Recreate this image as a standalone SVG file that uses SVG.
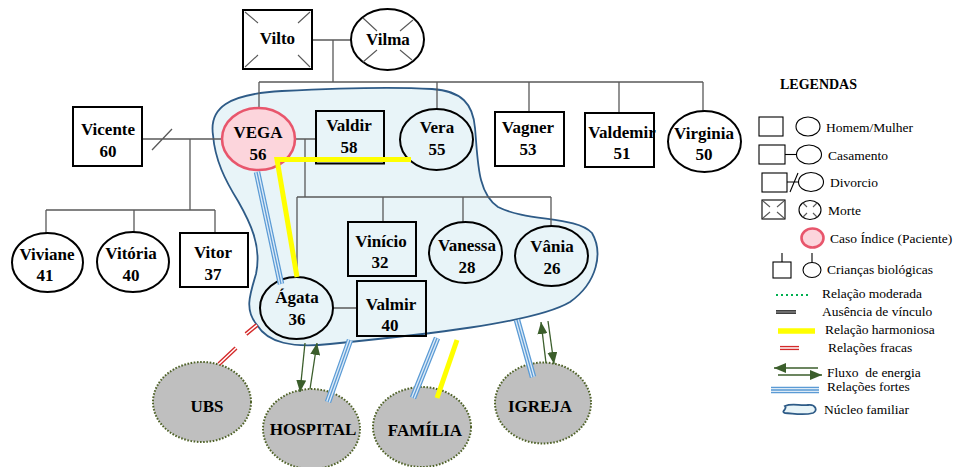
<svg xmlns="http://www.w3.org/2000/svg" width="956" height="467" viewBox="0 0 956 467">
  <style>
    .ln { stroke:#595959; stroke-width:1.3; fill:none }
    .nd { fill:#fff; stroke:#000; stroke-width:2 }
    .ni { fill:none; stroke:#000; stroke-width:2 }
    .idx { fill:#fcd5dc; stroke:#e8566c; stroke-width:2.6 }
    .x { stroke:#595959; stroke-width:1.1 }
    .t { font-family:"Liberation Serif","Times New Roman","DejaVu Serif",serif; font-weight:bold; font-size:17px; text-anchor:middle; fill:#000 }
    .sat { fill:#bfbfbf; stroke:#4f6228; stroke-width:2; stroke-dasharray:1.6 1.6 }
    .sa { stroke:#5b9bd5; stroke-width:6.5; fill:none }
    .sb { stroke:#dceaf7; stroke-width:4; fill:none }
    .sc { stroke:#5b9bd5; stroke-width:1.3; fill:none }
    .yl { stroke:#ffff00; stroke-width:5; fill:none }
    .ra { stroke:#d42a2a; stroke-width:4.2; fill:none }
    .rb { stroke:#fff; stroke-width:1.5; fill:none }
    .en { stroke:#3b5e2b; stroke-width:1.3; fill:none; marker-end:url(#ah) }
    .lgh { font-family:"Liberation Serif","Times New Roman","DejaVu Serif",serif; font-weight:bold; font-size:14px; fill:#000 }
    .lg { font-family:"Liberation Serif","Times New Roman","DejaVu Serif",serif; font-size:13.5px; fill:#000; white-space:pre }
    .ls { fill:#fff; stroke:#000; stroke-width:1.1 }
  </style>
  <defs>
    <marker id="ah" viewBox="0 0 12 10" refX="12" refY="5" markerWidth="12" markerHeight="10" markerUnits="userSpaceOnUse" orient="auto">
      <path d="M0,0 L12,5 L0,10 Z" fill="#3b5e2b"/>
    </marker>
  </defs>

  <!-- family nucleus outline -->
  <g id="nucleo">
    <path d="M213,135 C209,108 228,94 282,91 C340,88 400,87 432,89 C462,91 473,104 475,128 C478,160 477,193 498,207 C528,222 576,216 592,233 C603,252 598,282 570,302 C535,323 420,335 330,344 C292,348 268,343 257,325 C244,310 250,294 256,274 C262,246 250,222 238,201 C225,180 215,160 213,135 Z" fill="#e8f4f8" stroke="#2e5b87" stroke-width="1.8"/>
  </g>

  <!-- lineage lines -->
  <g id="lineage">
    <path class="ln" d="M312,40 H351 M333,40 V82 M259,82 H703 M259,82 V108 M437,82 V109 M529,82 V112 M619,82 V113 M703,82 V111"/>
    <path class="ln" d="M142,139 H222 M152,150 L172,129 M190,139 V210 M46,210 H215 M46,210 V233 M134,210 V232 M215,210 V233"/>
    <path class="ln" d="M295,139 H316 M305,139 V197 M297,197 H551 M297,197 V277 M383,197 V222 M463,197 V222 M551,197 V226 M333,308 H357"/>
  </g>

  <!-- people -->
  <g id="vilto">
    <rect class="nd" x="243" y="10" width="69" height="59"/>
    <path class="x" d="M245,12 L258,23 M310,12 L298,23 M245,67 L258,55 M310,67 L298,55"/>
    <text class="t" x="277.5" y="44">Vilto</text>
  </g>
  <g id="vilma">
    <ellipse class="nd" cx="387.5" cy="39.5" rx="36.5" ry="30.5"/>
    <path class="x" d="M363,18 L377,31 M413,20 L400,31 M363,62 L377,50 M412,60 L400,50"/>
    <text class="t" x="388" y="45">Vilma</text>
  </g>
  <g id="vicente">
    <rect class="nd" x="73" y="107" width="69" height="59"/>
    <text class="t" x="108" y="135">Vicente</text>
    <text class="t" x="108" y="157">60</text>
  </g>
  <g id="vega">
    <ellipse class="idx" cx="258.5" cy="139" rx="36.5" ry="31"/>
    <text class="t" x="258" y="138">VEGA</text>
    <text class="t" x="258" y="160">56</text>
  </g>
  <g id="valdir">
    <rect class="ni" x="316" y="111" width="68" height="52.5"/>
    <text class="t" x="349" y="131">Valdir</text>
    <text class="t" x="349" y="153">58</text>
  </g>
  <g id="vera">
    <ellipse class="ni" cx="436.5" cy="139.5" rx="36.5" ry="30.5"/>
    <text class="t" x="437" y="133">Vera</text>
    <text class="t" x="437" y="155">55</text>
  </g>
  <g id="vagner">
    <rect class="nd" x="495" y="112" width="69" height="54"/>
    <text class="t" x="528" y="133">Vagner</text>
    <text class="t" x="528" y="155">53</text>
  </g>
  <g id="valdemir">
    <rect class="nd" x="585" y="113" width="69" height="54"/>
    <text class="t" x="622" y="138">Valdemir</text>
    <text class="t" x="622" y="159">51</text>
  </g>
  <g id="virginia">
    <ellipse class="nd" cx="704.5" cy="141.5" rx="36.5" ry="30.5"/>
    <text class="t" x="704" y="139">Virginia</text>
    <text class="t" x="704" y="160">50</text>
  </g>
  <g id="viviane">
    <ellipse class="nd" cx="47.5" cy="262.5" rx="35.5" ry="29.5"/>
    <text class="t" x="47" y="260">Viviane</text>
    <text class="t" x="45" y="281">41</text>
  </g>
  <g id="vitoria">
    <ellipse class="nd" cx="133" cy="262" rx="36" ry="30"/>
    <text class="t" x="131" y="259">Vitória</text>
    <text class="t" x="131" y="281">40</text>
  </g>
  <g id="vitor">
    <rect class="nd" x="180" y="233" width="68" height="54"/>
    <text class="t" x="213" y="258">Vitor</text>
    <text class="t" x="213" y="280">37</text>
  </g>
  <g id="vinicio">
    <rect class="ni" x="348" y="222" width="68" height="54"/>
    <text class="t" x="381" y="247">Vinício</text>
    <text class="t" x="380" y="268">32</text>
  </g>
  <g id="vanessa">
    <ellipse class="ni" cx="465.5" cy="252.5" rx="36.5" ry="30.5"/>
    <text class="t" x="467" y="251">Vanessa</text>
    <text class="t" x="467" y="273">28</text>
  </g>
  <g id="vania">
    <ellipse class="ni" cx="551.5" cy="256" rx="36.5" ry="30"/>
    <text class="t" x="552" y="252">Vânia</text>
    <text class="t" x="552" y="274">26</text>
  </g>
  <g id="agata">
    <ellipse class="ni" cx="296.5" cy="308" rx="36.5" ry="31"/>
    <text class="t" x="297" y="303">Ágata</text>
    <text class="t" x="297" y="325">36</text>
  </g>
  <g id="valmir">
    <rect class="ni" x="357" y="281" width="69" height="55"/>
    <text class="t" x="391" y="310">Valmir</text>
    <text class="t" x="390" y="331">40</text>
  </g>

  <!-- support network -->
  <g id="ubs">
    <ellipse class="sat" cx="202" cy="402" rx="49" ry="40"/>
    <text class="t" x="207" y="412">UBS</text>
  </g>
  <g id="hospital">
    <ellipse class="sat" cx="311.5" cy="429" rx="48.5" ry="40"/>
    <text class="t" x="313" y="435">HOSPITAL</text>
  </g>
  <g id="familia">
    <ellipse class="sat" cx="422" cy="427" rx="49" ry="40"/>
    <text class="t" x="425" y="436">FAMÍLIA</text>
  </g>
  <g id="igreja">
    <ellipse class="sat" cx="543" cy="403" rx="48" ry="40.5"/>
    <text class="t" x="540" y="412">IGREJA</text>
  </g>

  <!-- relationship connectors -->
  <g id="relations">
    <!-- strong ties -->
    <g>
      <path class="sa" d="M257,172 L281,284 M350,340 L328,402 M437,338 L413,398 M517,320 L533,377"/>
      <path class="sb" d="M257,172 L281,284 M350,340 L328,402 M437,338 L413,398 M517,320 L533,377"/>
      <path class="sc" d="M257,172 L281,284 M350,340 L328,402 M437,338 L413,398 M517,320 L533,377"/>
    </g>
    <!-- harmonious -->
    <path class="yl" d="M411,159.5 H277 L297,277"/>
    <path class="yl" d="M457,340 L437,398"/>
    <!-- weak -->
    <path class="ra" d="M257,325 L246,334 M236,348 L219,364"/>
    <path class="rb" d="M257,325 L246,334 M236,348 L219,364"/>
    <!-- energy flow -->
    <path class="en" d="M305,343 L300,392"/>
    <path class="en" d="M310,389 L317,343"/>
    <path class="en" d="M546,363 L541,322"/>
    <path class="en" d="M548,321 L554,364"/>
  </g>

  <!-- key -->
  <g id="legenda">
    <text class="lgh" x="780" y="89">LEGENDAS</text>

    <rect class="ls" x="759" y="117" width="24" height="19"/>
    <ellipse class="ls" cx="808" cy="126.5" rx="12" ry="9.5"/>
    <text class="lg" x="826" y="132">Homem/Mulher</text>

    <rect class="ls" x="759" y="145" width="26" height="19"/>
    <path class="ls" d="M785,154.5 H797"/>
    <ellipse class="ls" cx="809" cy="154.5" rx="12.5" ry="9.5"/>
    <text class="lg" x="828" y="160">Casamento</text>

    <rect class="ls" x="762" y="173" width="25" height="19"/>
    <path class="ls" d="M787,182 H799 M790,192 L798,173"/>
    <ellipse class="ls" cx="811" cy="182" rx="12.5" ry="9.5"/>
    <text class="lg" x="830" y="187">Divorcio</text>

    <rect class="ls" x="762" y="200" width="23" height="19"/>
    <path class="x" d="M763,201 L770,207 M784,201 L777,207 M763,218 L770,212 M784,218 L777,212"/>
    <ellipse class="ls" cx="810" cy="210" rx="11" ry="9.5"/>
    <path class="x" d="M803,203 L807,207 M817,203 L813,207 M803,217 L807,213 M817,217 L813,213"/>
    <text class="lg" x="828" y="215">Morte</text>

    <ellipse class="idx" cx="812.5" cy="238" rx="11" ry="9.5"/>
    <text class="lg" x="830" y="243">Caso Índice (Paciente)</text>

    <rect class="ls" x="773" y="262" width="18" height="16"/>
    <ellipse class="ls" cx="812" cy="270" rx="9" ry="7.5"/>
    <path class="ls" d="M782,253 V262 M812,253 V262.5"/>
    <text class="lg" x="827" y="274">Crianças biológicas</text>

    <path d="M776,295 H809" stroke="#00b050" stroke-width="2" stroke-dasharray="2 3"/>
    <text class="lg" x="822" y="298">Relação moderada</text>

    <path d="M776,312 H796" stroke="#404040" stroke-width="4"/>
    <path d="M776,312 H796" stroke="#9a9a9a" stroke-width="1"/>
    <text class="lg" x="822" y="316">Ausência de vínculo</text>

    <path d="M778,331 H815" stroke="#ffff00" stroke-width="5.5"/>
    <text class="lg" x="825" y="334">Relação harmoniosa</text>

    <path class="ra" d="M780,348 H799"/>
    <path class="rb" d="M780,348 H799"/>
    <text class="lg" x="828" y="352">Relações fracas</text>

    <path class="en" d="M818,368 L774,368"/>
    <path class="en" d="M778,375 L822,375"/>
    <text class="lg" x="827" y="377">Fluxo  de energia</text>

    <path class="sa" d="M771,390 H819"/>
    <path class="sb" d="M771,390 H819"/>
    <path class="sc" d="M771,390 H819"/>
    <text class="lg" x="827" y="391">Relações fortes</text>

    <path d="M785,406 C792,403 800,406 808,405 C816,404 818,411 813,413 C802,416 792,413 785,413 C780,412 788,409 785,406 Z" fill="#e8f4f8" stroke="#2e5b87" stroke-width="1.8"/>
    <text class="lg" x="824" y="414">Núcleo familiar</text>
  </g>
</svg>
